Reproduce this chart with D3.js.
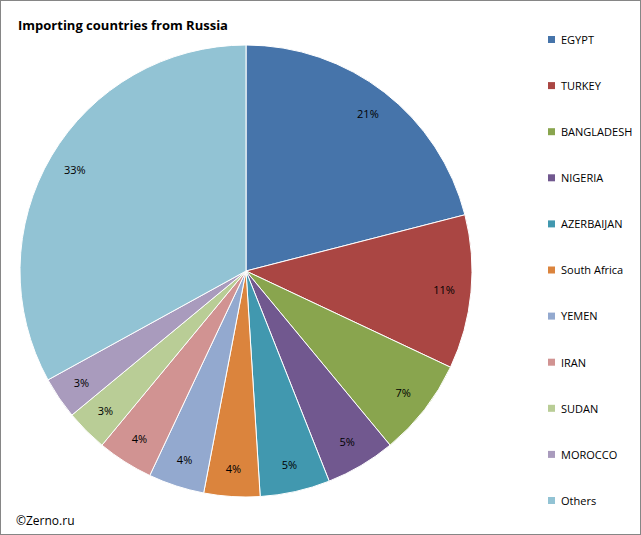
<!DOCTYPE html>
<html>
<head>
<meta charset="utf-8">
<script src="https://cdn.jsdelivr.net/npm/d3@7"></script>
<style>
body { margin: 0; background: #fff; }
text { font-family: "Open Sans", "Liberation Sans", sans-serif; }
</style>
</head>
<body>
<svg id="chart" width="641" height="535"></svg>
<script>
const countries = ["EGYPT", "TURKEY", "BANGLADESH", "NIGERIA", "AZERBAIJAN", "South Africa", "YEMEN", "IRAN", "SUDAN", "MOROCCO", "Others"];
const shares = [21, 11, 7, 5, 5, 4, 4, 4, 3, 3, 33];
const colors = ["#4674aa", "#aa4643", "#89a54e", "#71588f", "#4198af", "#db843d", "#93a9cf", "#d19392", "#b9cd96", "#a99bbd", "#92c3d4"];

const svg = d3.select("#chart");
const cx = 246, cy = 271, radius = 226;

svg.append("rect")
  .attr("x", 0.5).attr("y", 0.5)
  .attr("width", 640).attr("height", 534)
  .attr("fill", "#fff").attr("stroke", "#868686");

svg.append("text")
  .attr("x", 18).attr("y", 30)
  .attr("font-size", 13).attr("font-weight", "bold")
  .text("Importing countries from Russia");

const data = countries.map((c, i) => ({ name: c, value: shares[i], color: colors[i] }));
const pie = d3.pie().value(d => d.value).sort(null);
const arc = d3.arc().innerRadius(0).outerRadius(radius);
const labelArc = d3.arc().innerRadius(radius * 0.88).outerRadius(radius * 0.88);

const g = svg.append("g").attr("transform", `translate(${cx},${cy})`);
const arcs = pie(data);

g.selectAll("path")
  .data(arcs)
  .enter()
  .append("path")
  .attr("d", arc)
  .attr("fill", d => d.data.color)
  .attr("stroke", "#fff")
  .attr("stroke-width", 1);

g.selectAll("text.lbl")
  .data(arcs)
  .enter()
  .append("text")
  .classed("lbl", true)
  .attr("transform", d => `translate(${labelArc.centroid(d)})`)
  .attr("text-anchor", "middle")
  .attr("dy", "0.35em")
  .attr("font-size", 11)
  .text(d => d.data.value + "%");

const legend = svg.append("g");
const rows = legend.selectAll("g")
  .data(data)
  .enter()
  .append("g")
  .attr("transform", (d, i) => `translate(548, ${40 + i * 46.1})`);

rows.append("rect")
  .attr("x", 0).attr("y", -4)
  .attr("width", 7).attr("height", 7)
  .attr("fill", d => d.color);

rows.append("text")
  .attr("x", 13).attr("y", 0)
  .attr("dy", "0.35em")
  .attr("font-size", 11)
  .text(d => d.name);

svg.append("text")
  .attr("x", 16).attr("y", 525)
  .attr("font-size", 12)
  .text("©Zerno.ru");
</script>
</body>
</html>
